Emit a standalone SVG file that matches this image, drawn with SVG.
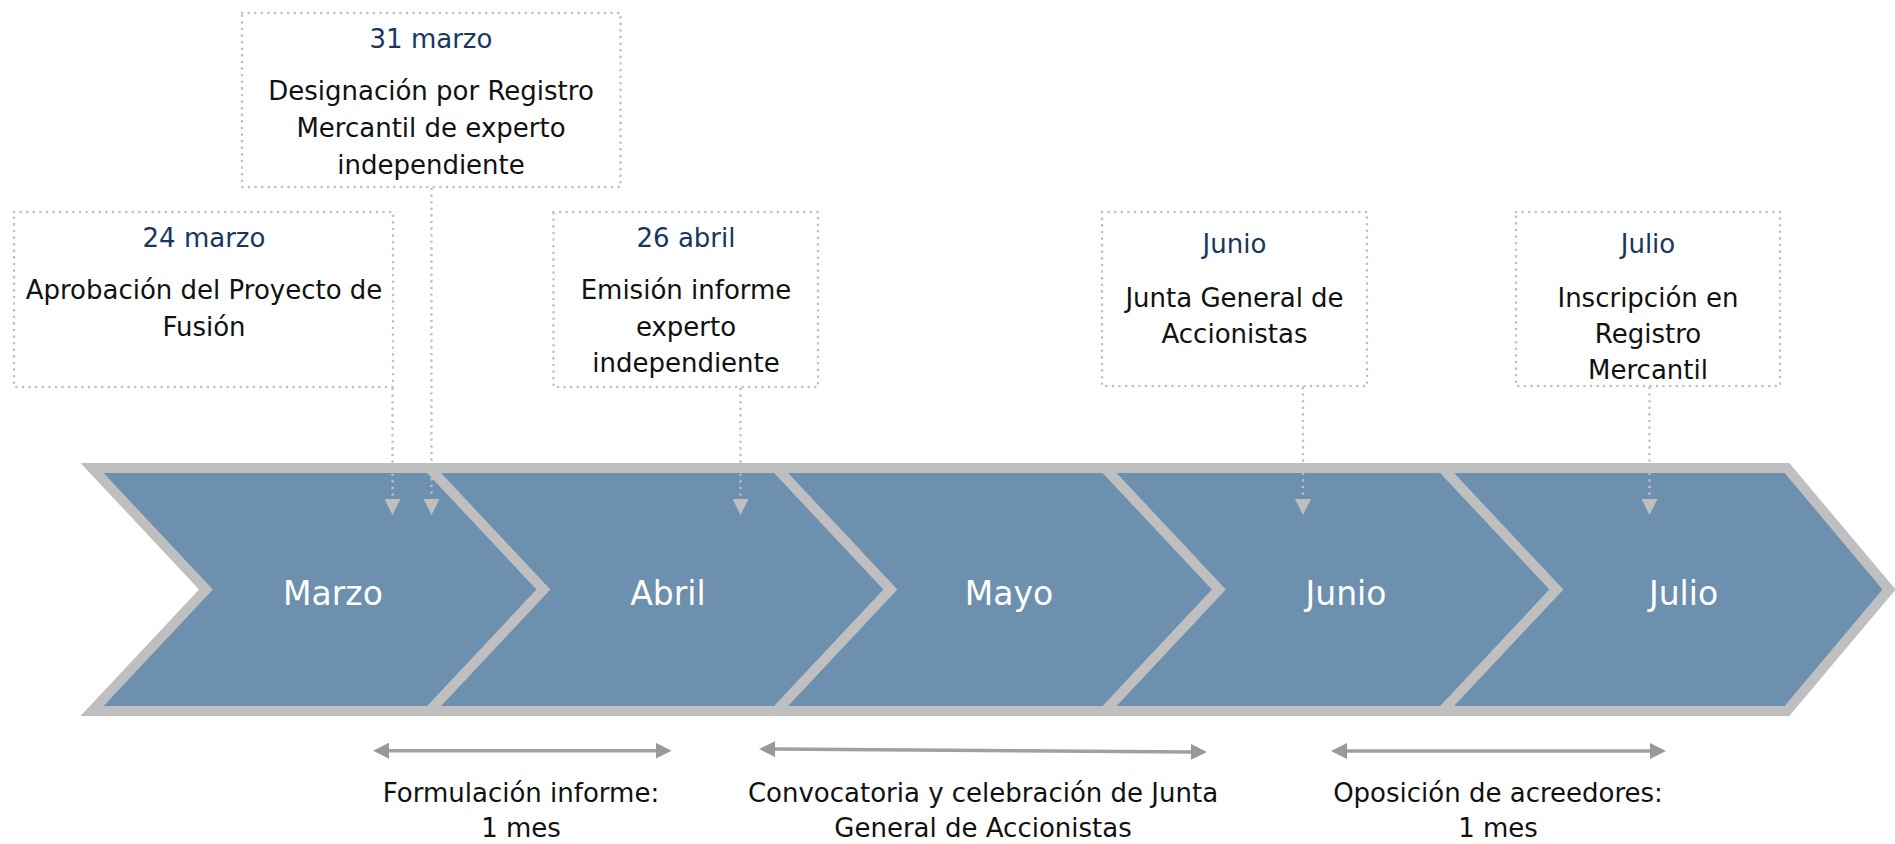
<svg xmlns="http://www.w3.org/2000/svg" width="1895" height="844" viewBox="0 0 1895 844">
<defs>
<marker id="dn" markerUnits="userSpaceOnUse" markerWidth="16" markerHeight="16" viewBox="0 0 15 15" refX="0" refY="7.5" orient="auto"><path d="M0,0 L15,7.5 L0,15 z" fill="#bfbfbf"/></marker>
<marker id="ar" markerUnits="userSpaceOnUse" markerWidth="16" markerHeight="16" viewBox="0 0 15 15" refX="1" refY="7.5" orient="auto-start-reverse"><path d="M0,0 L15,7.5 L0,15 z" fill="#999999"/></marker>
<style>
.chev{fill:#6d90ae;stroke:#bfbfbf;stroke-width:10;stroke-linejoin:miter}
.box{fill:none;stroke:#bfbfbf;stroke-width:2.6;stroke-dasharray:0 6.6;stroke-linecap:round}
.dot{fill:none;stroke:#bfbfbf;stroke-width:2.6;stroke-dasharray:0 6.6;stroke-linecap:round}
.span{fill:none;stroke:#a0a0a0;stroke-width:3.5}
text{font-family:"DejaVu Sans","Liberation Sans",sans-serif;text-anchor:middle}
.date{font-size:26px;fill:#17375e}
.body{font-size:26px;fill:#111111}
.month{font-size:33px;fill:#ffffff}
</style>
</defs>
<rect width="1895" height="844" fill="#ffffff"/>
<g id="chevrons">
<g id="marzo"><polygon class="chev" points="92,468 429.5,468 543.5,589.5 429.5,711 92,711 206,589.5"/><text class="month" x="333" y="605">Marzo</text></g>
<g id="abril"><polygon class="chev" points="429.5,468 776.5,468 890.5,589.5 776.5,711 429.5,711 543.5,589.5"/><text class="month" x="668" y="605">Abril</text></g>
<g id="mayo"><polygon class="chev" points="776.5,468 1105,468 1219,589.5 1105,711 776.5,711 890.5,589.5"/><text class="month" x="1009" y="605">Mayo</text></g>
<g id="junio"><polygon class="chev" points="1105,468 1442.5,468 1556.5,589.5 1442.5,711 1105,711 1219,589.5"/><text class="month" x="1346" y="605">Junio</text></g>
<g id="julio"><polygon class="chev" points="1442.5,468 1787,468 1889,589.5 1787,711 1442.5,711 1556.5,589.5"/><text class="month" x="1683.5" y="605">Julio</text></g>
</g>
<g id="ev-31marzo"><rect class="box" x="242" y="13" width="378.5" height="174"/><text class="date" x="431" y="48">31 marzo</text><text class="body" x="431" y="100">Designación por Registro</text><text class="body" x="431" y="137">Mercantil de experto</text><text class="body" x="431" y="174">independiente</text></g>
<g id="ev-24marzo"><rect class="box" x="14" y="212" width="379" height="175"/><text class="date" x="204" y="247">24 marzo</text><text class="body" x="204" y="299">Aprobación del Proyecto de</text><text class="body" x="204" y="336">Fusión</text></g>
<g id="ev-26abril"><rect class="box" x="553.5" y="212" width="264.5" height="175"/><text class="date" x="686" y="247">26 abril</text><text class="body" x="686" y="299">Emisión informe</text><text class="body" x="686" y="336">experto</text><text class="body" x="686" y="372">independiente</text></g>
<g id="ev-junio"><rect class="box" x="1102" y="212" width="265" height="174"/><text class="date" x="1234.5" y="253">Junio</text><text class="body" x="1234.5" y="307">Junta General de</text><text class="body" x="1234.5" y="343">Accionistas</text></g>
<g id="ev-julio"><rect class="box" x="1516" y="212" width="264" height="174"/><text class="date" x="1648" y="253">Julio</text><text class="body" x="1648" y="307">Inscripción en</text><text class="body" x="1648" y="343">Registro</text><text class="body" x="1648" y="379">Mercantil</text></g>
<g id="connectors">
<line class="dot" x1="392.5" y1="389" x2="392.5" y2="499" marker-end="url(#dn)"/>
<line class="dot" x1="431.5" y1="189" x2="431.5" y2="499" marker-end="url(#dn)"/>
<line class="dot" x1="740.5" y1="389" x2="740.5" y2="499" marker-end="url(#dn)"/>
<line class="dot" x1="1303" y1="388" x2="1303" y2="499" marker-end="url(#dn)"/>
<line class="dot" x1="1649.5" y1="388" x2="1649.5" y2="499" marker-end="url(#dn)"/>
<line class="span" x1="388" y1="750.7" x2="656.7" y2="750.7" marker-start="url(#ar)" marker-end="url(#ar)"/>
<line class="span" x1="774" y1="749.1" x2="1192" y2="751.9" marker-start="url(#ar)" marker-end="url(#ar)"/>
<line class="span" x1="1346" y1="751" x2="1651" y2="751" marker-start="url(#ar)" marker-end="url(#ar)"/>
</g>
<g id="span-labels">
<text class="body" x="521" y="802">Formulación informe:</text><text class="body" x="521" y="837">1 mes</text>
<text class="body" x="983" y="802">Convocatoria y celebración de Junta</text><text class="body" x="983" y="837">General de Accionistas</text>
<text class="body" x="1498" y="802">Oposición de acreedores:</text><text class="body" x="1498" y="837">1 mes</text>
</g>
</svg>
